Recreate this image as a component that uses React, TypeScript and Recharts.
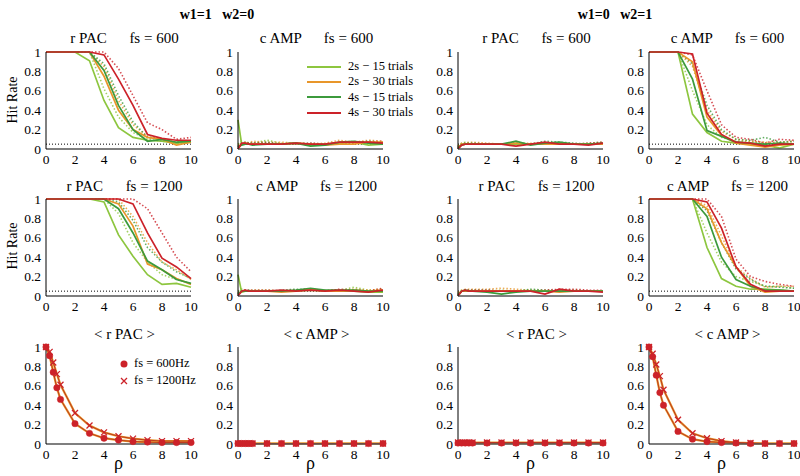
import React from "react";
import { LineChart, Line, XAxis, YAxis, ReferenceLine } from "recharts";

const FONT = "'Liberation Serif', 'Times New Roman', serif";

// sample positions (rho) shared by every panel
const xs = [0, 0.25, 0.5, 0.75, 1, 2, 3, 4, 5, 6, 7, 8, 9, 10];
const xTicks = [0, 2, 4, 6, 8, 10];
const yTicks = [0, 0.2, 0.4, 0.6, 0.8, 1];

const legendLabels = ["2s − 15 trials", "2s − 30 trials", "4s − 15 trials", "4s − 30 trials"];
const colors = ["#8DC63F", "#E8962A", "#3C9A3C", "#CC2229"];

// each panel: 4 solid series (lg, orange, dark green, red) then 4 dotted series
const rPac600W1 = [
  [1, 1, 1, 1, 1, 1, 0.91, 0.5, 0.22, 0.12, 0.09, 0.08, 0.06, 0.07],
  [1, 1, 1, 1, 1, 1, 1, 0.75, 0.4, 0.2, 0.12, 0.1, 0.04, 0.07],
  [1, 1, 1, 1, 1, 1, 1, 0.81, 0.45, 0.2, 0.08, 0.1, 0.07, 0.08],
  [1, 1, 1, 1, 1, 1, 1, 0.97, 0.72, 0.45, 0.15, 0.11, 0.09, 0.09],
  [1, 1, 1, 1, 1, 1, 1, 0.62, 0.33, 0.17, 0.1, 0.08, 0.07, 0.07],
  [1, 1, 1, 1, 1, 1, 1, 0.85, 0.5, 0.25, 0.13, 0.1, 0.07, 0.08],
  [1, 1, 1, 1, 1, 1, 1, 0.88, 0.55, 0.28, 0.12, 0.1, 0.06, 0.09],
  [1, 1, 1, 1, 1, 1, 1, 1, 0.83, 0.55, 0.27, 0.2, 0.1, 0.12],
];
const cAmp600W1 = [
  [0.3, 0.05, 0.05, 0.05, 0.05, 0.05, 0.05, 0.06, 0.04, 0.05, 0.06, 0.07, 0.04, 0.05],
  [0.0, 0.05, 0.06, 0.05, 0.05, 0.05, 0.05, 0.06, 0.05, 0.04, 0.05, 0.05, 0.07, 0.07],
  [0.02, 0.04, 0.05, 0.05, 0.04, 0.05, 0.05, 0.06, 0.03, 0.04, 0.07, 0.08, 0.06, 0.05],
  [0.0, 0.06, 0.06, 0.05, 0.05, 0.05, 0.05, 0.06, 0.05, 0.05, 0.07, 0.07, 0.07, 0.06],
  [0.05, 0.08, 0.06, 0.07, 0.06, 0.09, 0.06, 0.06, 0.05, 0.05, 0.06, 0.08, 0.06, 0.07],
  [0.04, 0.06, 0.07, 0.06, 0.08, 0.07, 0.07, 0.06, 0.05, 0.06, 0.09, 0.07, 0.09, 0.08],
  [0.03, 0.06, 0.07, 0.06, 0.06, 0.07, 0.05, 0.06, 0.06, 0.05, 0.05, 0.06, 0.08, 0.07],
  [0.02, 0.05, 0.06, 0.06, 0.06, 0.06, 0.05, 0.05, 0.06, 0.05, 0.06, 0.06, 0.07, 0.08],
];
const rPac600W2 = [
  [0.0, 0.05, 0.05, 0.05, 0.05, 0.05, 0.05, 0.05, 0.05, 0.05, 0.05, 0.05, 0.05, 0.05],
  [0.01, 0.05, 0.05, 0.05, 0.05, 0.05, 0.05, 0.06, 0.05, 0.05, 0.05, 0.05, 0.05, 0.05],
  [0.01, 0.04, 0.05, 0.05, 0.05, 0.05, 0.05, 0.08, 0.04, 0.06, 0.07, 0.05, 0.05, 0.06],
  [0.0, 0.04, 0.05, 0.05, 0.05, 0.05, 0.05, 0.03, 0.05, 0.07, 0.05, 0.05, 0.04, 0.06],
  [0.03, 0.06, 0.07, 0.06, 0.06, 0.05, 0.05, 0.06, 0.05, 0.06, 0.06, 0.05, 0.06, 0.07],
  [0.03, 0.06, 0.06, 0.07, 0.07, 0.06, 0.05, 0.06, 0.06, 0.06, 0.06, 0.05, 0.05, 0.06],
  [0.02, 0.05, 0.06, 0.06, 0.06, 0.05, 0.05, 0.06, 0.05, 0.08, 0.07, 0.06, 0.05, 0.06],
  [0.02, 0.05, 0.05, 0.05, 0.05, 0.05, 0.05, 0.05, 0.05, 0.05, 0.06, 0.05, 0.06, 0.07],
];
const cAmp600W2 = [
  [1, 1, 1, 1, 1, 1, 0.36, 0.17, 0.08, 0.06, 0.05, 0.04, 0.01, 0.05],
  [1, 1, 1, 1, 1, 1, 0.9, 0.33, 0.14, 0.06, 0.04, 0.02, 0.04, 0.05],
  [1, 1, 1, 1, 1, 1, 0.72, 0.19, 0.13, 0.07, 0.06, 0.05, 0.06, 0.05],
  [1, 1, 1, 1, 1, 1, 0.98, 0.37, 0.15, 0.07, 0.06, 0.03, 0.05, 0.05],
  [1, 1, 1, 1, 1, 1, 0.6, 0.25, 0.12, 0.08, 0.08, 0.06, 0.06, 0.06],
  [1, 1, 1, 1, 1, 1, 0.85, 0.4, 0.18, 0.1, 0.08, 0.07, 0.07, 0.08],
  [1, 1, 1, 1, 1, 1, 0.88, 0.45, 0.2, 0.1, 0.09, 0.12, 0.07, 0.08],
  [1, 1, 1, 1, 1, 1, 0.97, 0.6, 0.25, 0.12, 0.1, 0.06, 0.1, 0.09],
];
const rPac1200W1 = [
  [1, 1, 1, 1, 1, 1, 1, 0.97, 0.63, 0.41, 0.22, 0.12, 0.13, 0.09],
  [1, 1, 1, 1, 1, 1, 1, 1, 0.95, 0.72, 0.33, 0.27, 0.18, 0.12],
  [1, 1, 1, 1, 1, 1, 1, 1, 0.9, 0.65, 0.36, 0.27, 0.17, 0.13],
  [1, 1, 1, 1, 1, 1, 1, 1, 1, 0.95, 0.65, 0.39, 0.3, 0.18],
  [1, 1, 1, 1, 1, 1, 1, 1, 0.85, 0.55, 0.35, 0.22, 0.17, 0.13],
  [1, 1, 1, 1, 1, 1, 1, 1, 1, 0.82, 0.55, 0.35, 0.27, 0.17],
  [1, 1, 1, 1, 1, 1, 1, 1, 0.97, 0.78, 0.5, 0.35, 0.25, 0.18],
  [1, 1, 1, 1, 1, 1, 1, 1, 1, 1, 0.9, 0.65, 0.4, 0.25],
];
const cAmp1200W1 = [
  [0.22, 0.04, 0.05, 0.05, 0.05, 0.05, 0.05, 0.05, 0.06, 0.05, 0.05, 0.05, 0.04, 0.04],
  [0.01, 0.05, 0.05, 0.05, 0.05, 0.05, 0.04, 0.05, 0.07, 0.05, 0.05, 0.06, 0.05, 0.06],
  [0.02, 0.05, 0.05, 0.05, 0.05, 0.05, 0.05, 0.06, 0.08, 0.06, 0.06, 0.06, 0.05, 0.05],
  [0.0, 0.05, 0.06, 0.05, 0.05, 0.05, 0.06, 0.05, 0.06, 0.05, 0.06, 0.05, 0.04, 0.06],
  [0.05, 0.07, 0.06, 0.06, 0.06, 0.06, 0.05, 0.06, 0.07, 0.05, 0.06, 0.09, 0.06, 0.07],
  [0.03, 0.06, 0.06, 0.05, 0.06, 0.06, 0.05, 0.06, 0.06, 0.06, 0.06, 0.07, 0.06, 0.07],
  [0.03, 0.05, 0.06, 0.06, 0.05, 0.05, 0.06, 0.07, 0.07, 0.05, 0.06, 0.06, 0.05, 0.06],
  [0.02, 0.05, 0.06, 0.06, 0.06, 0.06, 0.05, 0.06, 0.07, 0.05, 0.07, 0.06, 0.05, 0.08],
];
const rPac1200W2 = [
  [0.0, 0.05, 0.05, 0.05, 0.05, 0.05, 0.05, 0.05, 0.05, 0.05, 0.05, 0.05, 0.05, 0.05],
  [0.01, 0.05, 0.05, 0.05, 0.05, 0.05, 0.05, 0.05, 0.05, 0.05, 0.04, 0.05, 0.05, 0.05],
  [0.01, 0.05, 0.06, 0.05, 0.05, 0.04, 0.02, 0.04, 0.05, 0.05, 0.05, 0.05, 0.05, 0.05],
  [0.0, 0.05, 0.06, 0.05, 0.05, 0.05, 0.05, 0.05, 0.05, 0.02, 0.07, 0.05, 0.05, 0.04],
  [0.03, 0.06, 0.06, 0.06, 0.06, 0.05, 0.06, 0.05, 0.06, 0.06, 0.05, 0.05, 0.05, 0.05],
  [0.04, 0.06, 0.07, 0.07, 0.07, 0.07, 0.08, 0.07, 0.06, 0.05, 0.05, 0.06, 0.05, 0.05],
  [0.02, 0.05, 0.06, 0.06, 0.06, 0.06, 0.05, 0.05, 0.07, 0.06, 0.06, 0.06, 0.05, 0.05],
  [0.02, 0.05, 0.06, 0.06, 0.06, 0.06, 0.05, 0.05, 0.05, 0.06, 0.07, 0.07, 0.06, 0.06],
];
const cAmp1200W2 = [
  [1, 1, 1, 1, 1, 1, 1, 0.5, 0.18, 0.1, 0.07, 0.07, 0.06, 0.05],
  [1, 1, 1, 1, 1, 1, 1, 0.9, 0.55, 0.3, 0.1, 0.04, 0.05, 0.05],
  [1, 1, 1, 1, 1, 1, 1, 0.82, 0.4, 0.17, 0.1, 0.06, 0.06, 0.05],
  [1, 1, 1, 1, 1, 1, 1, 0.97, 0.7, 0.3, 0.12, 0.05, 0.05, 0.05],
  [1, 1, 1, 1, 1, 1, 1, 0.65, 0.35, 0.2, 0.15, 0.1, 0.1, 0.08],
  [1, 1, 1, 1, 1, 1, 1, 0.93, 0.62, 0.3, 0.18, 0.09, 0.1, 0.1],
  [1, 1, 1, 1, 1, 1, 1, 0.88, 0.55, 0.28, 0.17, 0.1, 0.09, 0.08],
  [1, 1, 1, 1, 1, 1, 1, 1, 0.82, 0.38, 0.2, 0.15, 0.12, 0.1],
];

// averaged curves, bottom row
const avgRPac600W1 = [1, 0.91, 0.74, 0.58, 0.46, 0.21, 0.11, 0.06, 0.04, 0.025, 0.02, 0.015, 0.015, 0.015];
const avgRPac1200W1 = [1, 0.95, 0.84, 0.72, 0.61, 0.32, 0.19, 0.12, 0.08, 0.055, 0.04, 0.03, 0.03, 0.03];
const avgCAmp600W1 = [0.005, 0.005, 0.005, 0.005, 0.005, 0.005, 0.005, 0.005, 0.005, 0.005, 0.005, 0.005, 0.005, 0.005];
const avgCAmp1200W1 = [0.005, 0.005, 0.005, 0.005, 0.005, 0.005, 0.005, 0.005, 0.005, 0.005, 0.005, 0.005, 0.005, 0.005];
const avgRPac600W2 = [0.01, 0.01, 0.01, 0.01, 0.01, 0.01, 0.01, 0.01, 0.01, 0.01, 0.01, 0.01, 0.01, 0.01];
const avgRPac1200W2 = [0.015, 0.015, 0.015, 0.015, 0.015, 0.015, 0.015, 0.015, 0.015, 0.015, 0.015, 0.015, 0.015, 0.015];
const avgCAmp600W2 = [1, 0.9, 0.71, 0.53, 0.4, 0.13, 0.05, 0.025, 0.015, 0.01, 0.005, 0.005, 0.005, 0.005];
const avgCAmp1200W2 = [1, 0.93, 0.82, 0.7, 0.56, 0.25, 0.11, 0.06, 0.03, 0.015, 0.01, 0.005, 0.005, 0.005];

const colLeft = [46, 238, 458, 649];
const rowTop = [52, 199, 347];
const PLOT_W = 145;
const PLOT_H = 97;
const Y_W = 35;
const M = { top: 10, right: 12, left: 0, bottom: 0 };
const CHART_W = Y_W + PLOT_W + M.right;
const CHART_H = M.top + PLOT_H + 22;

// serif tick labels, drawn by hand so the font sticks
function XTick(props: any) {
  const { x, y, payload } = props;
  return (
    <text x={x} y={y + 10} textAnchor="middle" style={{ fontFamily: FONT, fontSize: 13.5 }} fill="#000">
      {payload.value}
    </text>
  );
}
function YTick(props: any) {
  const { x, y, payload } = props;
  return (
    <text x={x + 1} y={y + 4.5} textAnchor="end" style={{ fontFamily: FONT, fontSize: 13.5 }} fill="#000">
      {payload.value}
    </text>
  );
}

function rows(series: number[][]) {
  return xs.map((x, i) => {
    const r: any = { x };
    series.forEach((s, k) => (r["s" + k] = s[i]));
    return r;
  });
}

function Axes() {
  return [
    <XAxis
      key="x"
      type="number"
      dataKey="x"
      domain={[0, 10]}
      ticks={xTicks}
      interval={0}
      tick={<XTick />}
      tickLine={false}
      tickSize={3}
      axisLine={{ stroke: "#555", strokeWidth: 1.5 }}
      height={22}
    />,
    <YAxis
      key="y"
      type="number"
      domain={[0, 1]}
      ticks={yTicks}
      interval={0}
      tick={<YTick />}
      tickLine={false}
      tickSize={4}
      axisLine={{ stroke: "#000" }}
      width={Y_W}
    />,
  ];
}

function HitPanel({ series, col, row }: { series: number[][]; col: number; row: number }) {
  const data = rows(series);
  const order = [4, 5, 6, 7, 0, 1, 2, 3];
  return (
    <div style={{ position: "absolute", left: colLeft[col] - Y_W, top: rowTop[row] - M.top }}>
      <LineChart width={CHART_W} height={CHART_H} data={data} margin={M}>
        {Axes()}
        <ReferenceLine y={0.05} stroke="#000" strokeDasharray="1 2" strokeWidth={1} />
        {order.map((k) => (
          <Line
            key={k}
            type="linear"
            dataKey={"s" + k}
            stroke={colors[k % 4]}
            strokeWidth={k < 4 ? 1.7 : 1.6}
            strokeDasharray={k < 4 ? undefined : "1.5 2"}
            strokeOpacity={k < 4 ? 1 : 0.8}
            dot={false}
            isAnimationActive={false}
          />
        ))}
      </LineChart>
    </div>
  );
}

const RED = "#CC2229";

function crossDot(props: any) {
  const { cx, cy, index } = props;
  if (cx == null || cy == null) return <g key={"c" + index} />;
  const d = 3;
  return (
    <path
      key={"c" + index}
      d={`M${cx - d},${cy - d}L${cx + d},${cy + d}M${cx - d},${cy + d}L${cx + d},${cy - d}`}
      stroke={RED}
      strokeWidth={1.3}
    />
  );
}

function AvgPanel({ a600, a1200, col }: { a600: number[]; a1200: number[]; col: number }) {
  const data = rows([a600, a1200]);
  return (
    <div style={{ position: "absolute", left: colLeft[col] - Y_W, top: rowTop[2] - M.top }}>
      <LineChart width={CHART_W} height={CHART_H} data={data} margin={M}>
        {Axes()}
        <Line type="linear" dataKey="s1" stroke="#E8962A" strokeWidth={2.2} dot={false} isAnimationActive={false} />
        <Line type="linear" dataKey="s0" stroke="#E8962A" strokeWidth={2.2} dot={false} isAnimationActive={false} />
        <Line type="linear" dataKey="s1" stroke="#B8301E" strokeWidth={0.9} dot={crossDot} isAnimationActive={false} />
        <Line
          type="linear"
          dataKey="s0"
          stroke="#B8301E"
          strokeWidth={0.9}
          dot={{ r: 3.2, fill: RED, stroke: RED, strokeWidth: 0.5 }}
          isAnimationActive={false}
        />
      </LineChart>
    </div>
  );
}

function Text({ x, y, children, size = 15, bold = false }: any) {
  return (
    <div
      style={{
        position: "absolute",
        left: x - 150,
        top: y - size * 0.6,
        width: 300,
        textAlign: "center",
        fontSize: size,
        fontWeight: bold ? "bold" : "normal",
        whiteSpace: "pre",
        lineHeight: 1.2 + "",
      }}
    >
      {children}
    </div>
  );
}

export default function App() {
  const cx = (c: number) => colLeft[c] + PLOT_W / 2;
  return (
    <div
      style={{
        position: "absolute",
        left: 0,
        top: 0,
        width: 800,
        height: 476,
        background: "#fff",
        fontFamily: FONT,
        color: "#000",
        overflow: "hidden",
      }}
    >
      <Text x={217} y={15} size={14} bold>{"w1=1   w2=0"}</Text>
      <Text x={615} y={15} size={14} bold>{"w1=0   w2=1"}</Text>

      <Text x={cx(0) + 6} y={38}>{"r PAC      fs = 600"}</Text>
      <Text x={cx(1) + 6} y={38}>{"c AMP      fs = 600"}</Text>
      <Text x={cx(2) + 6} y={38}>{"r PAC      fs = 600"}</Text>
      <Text x={cx(3) + 6} y={38}>{"c AMP      fs = 600"}</Text>
      <Text x={cx(0) + 6} y={186}>{"r PAC      fs = 1200"}</Text>
      <Text x={cx(1) + 6} y={186}>{"c AMP      fs = 1200"}</Text>
      <Text x={cx(2) + 6} y={186}>{"r PAC      fs = 1200"}</Text>
      <Text x={cx(3) + 6} y={186}>{"c AMP      fs = 1200"}</Text>
      <Text x={cx(0) + 6} y={334}>{"< r PAC >"}</Text>
      <Text x={cx(1) + 6} y={334}>{"< c AMP >"}</Text>
      <Text x={cx(2) + 6} y={334}>{"< r PAC >"}</Text>
      <Text x={cx(3) + 6} y={334}>{"< c AMP >"}</Text>

      {[100, 246].map((y) => (
        <div
          key={y}
          style={{
            position: "absolute",
            left: 13 - 50,
            top: y - 10,
            width: 100,
            height: 20,
            lineHeight: "20px",
            textAlign: "center",
            fontSize: 14,
            transform: "rotate(-90deg)",
          }}
        >
          Hit Rate
        </div>
      ))}

      {[0, 1, 2, 3].map((c) => (
        <Text key={c} x={cx(c)} y={464} size={18}>ρ</Text>
      ))}

      <HitPanel series={rPac600W1} col={0} row={0} />
      <HitPanel series={cAmp600W1} col={1} row={0} />
      <HitPanel series={rPac600W2} col={2} row={0} />
      <HitPanel series={cAmp600W2} col={3} row={0} />
      <HitPanel series={rPac1200W1} col={0} row={1} />
      <HitPanel series={cAmp1200W1} col={1} row={1} />
      <HitPanel series={rPac1200W2} col={2} row={1} />
      <HitPanel series={cAmp1200W2} col={3} row={1} />
      <AvgPanel a600={avgRPac600W1} a1200={avgRPac1200W1} col={0} />
      <AvgPanel a600={avgCAmp600W1} a1200={avgCAmp1200W1} col={1} />
      <AvgPanel a600={avgRPac600W2} a1200={avgRPac1200W2} col={2} />
      <AvgPanel a600={avgCAmp600W2} a1200={avgCAmp1200W2} col={3} />

      {/* series legend */}
      <div style={{ position: "absolute", left: 307, top: 59, fontSize: 12.5 }}>
        {legendLabels.map((l, i) => (
          <div key={l} style={{ display: "flex", alignItems: "center", height: 15.3, whiteSpace: "nowrap" }}>
            <svg width={34} height={4} style={{ marginRight: 7 }}>
              <line x1={0} y1={2} x2={34} y2={2} stroke={colors[i]} strokeWidth={1.8} />
            </svg>
            {l}
          </div>
        ))}
      </div>

      {/* marker legend */}
      <div style={{ position: "absolute", left: 119, top: 355, fontSize: 12.5 }}>
        <div style={{ display: "flex", alignItems: "center", height: 17, whiteSpace: "nowrap" }}>
          <svg width={10} height={10} style={{ marginRight: 5 }}>
            <circle cx={5} cy={5} r={3.5} fill={RED} />
          </svg>
          fs = 600Hz
        </div>
        <div style={{ display: "flex", alignItems: "center", height: 17, whiteSpace: "nowrap" }}>
          <svg width={10} height={10} style={{ marginRight: 5 }}>
            <path d="M2,2L8,8M2,8L8,2" stroke={RED} strokeWidth={1.3} />
          </svg>
          fs = 1200Hz
        </div>
      </div>
    </div>
  );
}
